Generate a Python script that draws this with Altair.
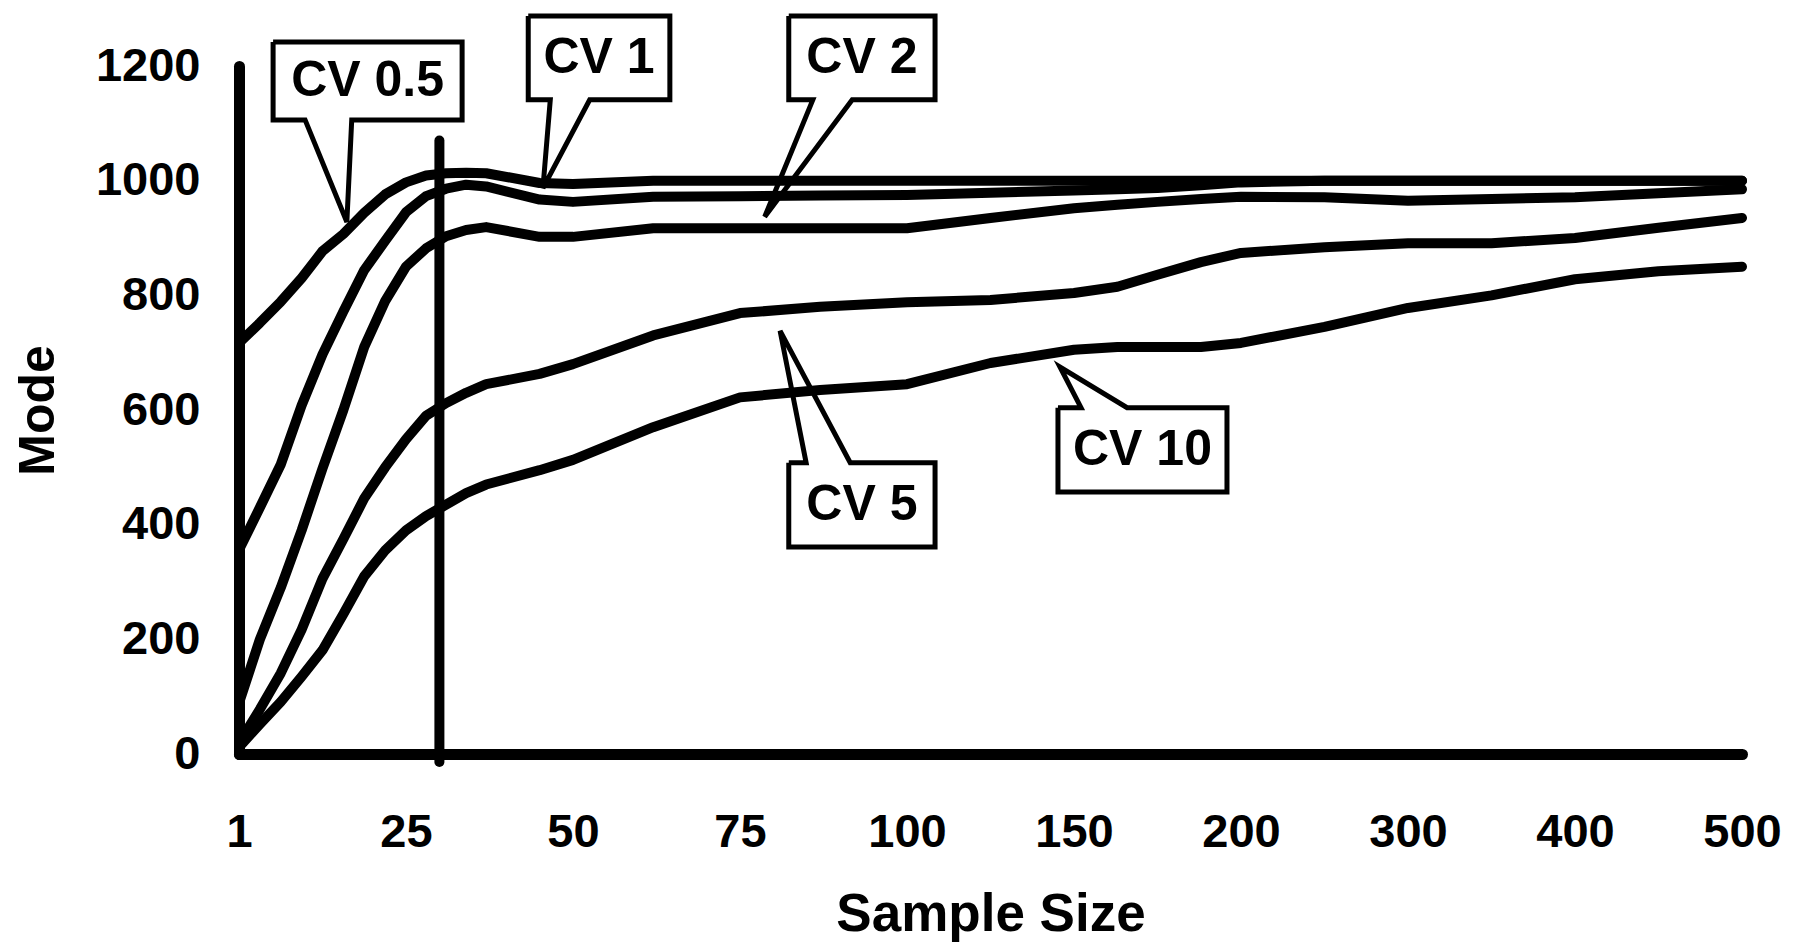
import altair as alt
import pandas as pd

# ---------------- data ----------------
sample_sizes = [1, 4, 7, 10, 13, 16, 19, 22, 25, 28, 31, 34, 37, 45, 50, 62, 75, 87, 100,
                125, 150, 163, 175, 188, 200, 250, 300, 350, 400, 450, 500]
cv_05 = [717, 752, 789, 830, 877, 907, 944, 976, 997, 1009, 1013, 1014, 1013, 996, 994, 1000,
         1000, 1000, 1000, 1000, 1000, 1000, 1000, 1000, 1000, 1000, 1000, 1000, 1000, 1000, 1000]
cv_1 = [356, 430, 505, 608, 697, 772, 844, 895, 945, 973, 986, 993, 990, 967, 963, 972,
        973, 974, 975, 979, 983, 985, 987, 992, 997, 1000, 1000, 1000, 1000, 1000, 1000]
cv_2 = [89, 200, 290, 390, 498, 600, 710, 790, 850, 882, 903, 914, 919, 902, 902, 917,
        917, 917, 917, 935, 952, 958, 963, 968, 972, 971, 965, 968, 971, 978, 985]
cv_5 = [19, 78, 141, 217, 306, 375, 446, 500, 549, 590, 612, 630, 645, 663, 680, 730,
        769, 780, 788, 792, 804, 815, 836, 858, 874, 884, 891, 891, 900, 918, 935]
cv_10 = [12, 52, 91, 135, 181, 244, 310, 355, 390, 415, 435, 455, 470, 495, 513, 570,
         622, 635, 645, 682, 705, 710, 710, 710, 717, 745, 778, 800, 828, 842, 850]

series_names = ["CV 0.5", "CV 1", "CV 2", "CV 5", "CV 10"]
series_values = [cv_05, cv_1, cv_2, cv_5, cv_10]

tick_labels = ["1", "25", "50", "75", "100", "150", "200", "300", "400", "500"]
y_ticks = [0, 200, 400, 600, 800, 1000, 1200]

# reference line at n = 30
ref_n = [30]
ref_low = [-14]
ref_high = [1070]

# callouts: label, box left/right (n), box top/bottom (mode), tail base left/right (n), tip (n, mode), side
callout_labels = ["CV 0.5", "CV 1", "CV 2", "CV 5", "CV 10"]
callout_x0 = [5.9, 43.3, 82.3, 82.3, 145.2]
callout_x1 = [33.4, 64.5, 108.4, 108.4, 195.8]
callout_top = [1242, 1287, 1287, 508, 604]
callout_bottom = [1106, 1141, 1141, 361, 457]
callout_base_l = [10.5, 46.6, 85.9, 84.9, 152.1]
callout_base_r = [17.2, 52.5, 91.8, 91.5, 165.9]
callout_tip_n = [16.5, 45.5, 78.7, 81.0, 145.8]
callout_tip_v = [928, 987, 937, 738, 675]
callout_side = ["bottom", "bottom", "bottom", "top", "top"]


def axis_pos(n):
    """Piecewise position of a sample size on the category-like x axis."""
    if n <= 25:
        return (n - 1) / 24
    if n <= 100:
        return 1 + (n - 25) / 25
    if n <= 200:
        return 4 + (n - 100) / 50
    return 6 + (n - 200) / 100


rows = []
for name, vals in zip(series_names, series_values):
    for n, v in zip(sample_sizes, vals):
        rows.append({"series": name, "n": n, "pos": axis_pos(n), "mode": v})
lines_df = pd.DataFrame(rows)

ref_df = pd.DataFrame({"pos": [axis_pos(n) for n in ref_n], "low": ref_low, "high": ref_high})

poly_rows = []
text_rows = []
for i, lab in enumerate(callout_labels):
    x0, x1 = callout_x0[i], callout_x1[i]
    yt, yb = callout_top[i], callout_bottom[i]
    bl, br = callout_base_l[i], callout_base_r[i]
    tip = (callout_tip_n[i], callout_tip_v[i])
    if callout_side[i] == "bottom":
        pts = [(x0, yt), (x1, yt), (x1, yb), (br, yb), tip, (bl, yb), (x0, yb), (x0, yt)]
    else:
        pts = [(x0, yt), (bl, yt), tip, (br, yt), (x1, yt), (x1, yb), (x0, yb), (x0, yt)]
    for k, (n, v) in enumerate(pts):
        poly_rows.append({"label": lab, "order": k, "pos": axis_pos(n), "mode": v})
    text_rows.append({"label": lab,
                      "pos": (axis_pos(x0) + axis_pos(x1)) / 2,
                      "mode": (yt + yb) / 2})
poly_df = pd.DataFrame(poly_rows)
text_df = pd.DataFrame(text_rows)

FONT = "Liberation Sans"
label_expr = "[" + ",".join(f"'{t}'" for t in tick_labels) + "][datum.value]"

x_scale = alt.Scale(domain=[0, 9], nice=False, zero=False)
y_scale = alt.Scale(domain=[0, 1200], nice=False)

x_axis = alt.Axis(values=list(range(10)), labelExpr=label_expr, title="Sample Size",
                  grid=False, ticks=False, tickSize=0, labelPadding=55, labelFlush=False,
                  labelFont=FONT, labelFontSize=47, labelFontWeight="bold", labelColor="black",
                  titleFont=FONT, titleFontSize=53, titleFontWeight="bold", titleColor="black",
                  titleY=176, titleBaseline="alphabetic",
                  domainColor="black", domainWidth=11, domainCap="round")
y_axis = alt.Axis(values=y_ticks, format="d", title="Mode", grid=False, ticks=False, tickSize=0,
                  labelPadding=39, labelFlush=False,
                  labelFont=FONT, labelFontSize=47, labelFontWeight="bold", labelColor="black",
                  titleFont=FONT, titleFontSize=50, titleFontWeight="bold", titleColor="black",
                  titleAngle=270, titleX=-186, titleY=344, titleAlign="center",
                  titleBaseline="alphabetic",
                  domainColor="black", domainWidth=11, domainCap="round")

lines = alt.Chart(lines_df).mark_line(
    color="black", strokeWidth=10, strokeCap="round", strokeJoin="round", clip=False
).encode(
    x=alt.X("pos:Q", scale=x_scale, axis=x_axis),
    y=alt.Y("mode:Q", scale=y_scale, axis=y_axis),
    detail="series:N",
    order="n:Q",
)

ref = alt.Chart(ref_df).mark_rule(color="black", strokeWidth=10, strokeCap="round").encode(
    x=alt.X("pos:Q", scale=x_scale),
    y=alt.Y("low:Q", scale=y_scale),
    y2="high:Q",
)

callouts = alt.Chart(poly_df).mark_line(
    color="black", strokeWidth=5, strokeJoin="miter", clip=False
).encode(
    x=alt.X("pos:Q", scale=x_scale),
    y=alt.Y("mode:Q", scale=y_scale),
    detail="label:N",
    order="order:Q",
)

texts = alt.Chart(text_df).mark_text(
    font=FONT, fontSize=50, fontWeight="bold", color="black", align="center", baseline="middle"
).encode(
    x=alt.X("pos:Q", scale=x_scale),
    y=alt.Y("mode:Q", scale=y_scale),
    text="label:N",
)

chart = alt.layer(lines, ref, callouts, texts).properties(
    width=1503,
    height=688,
    background="white",
    autosize=alt.AutoSizeParams(type="none"),
    padding={"left": 231, "top": 58, "right": 50, "bottom": 192},
).configure_view(stroke=None)

chart.save("out.html", embed_options={"renderer": "svg", "actions": False})
